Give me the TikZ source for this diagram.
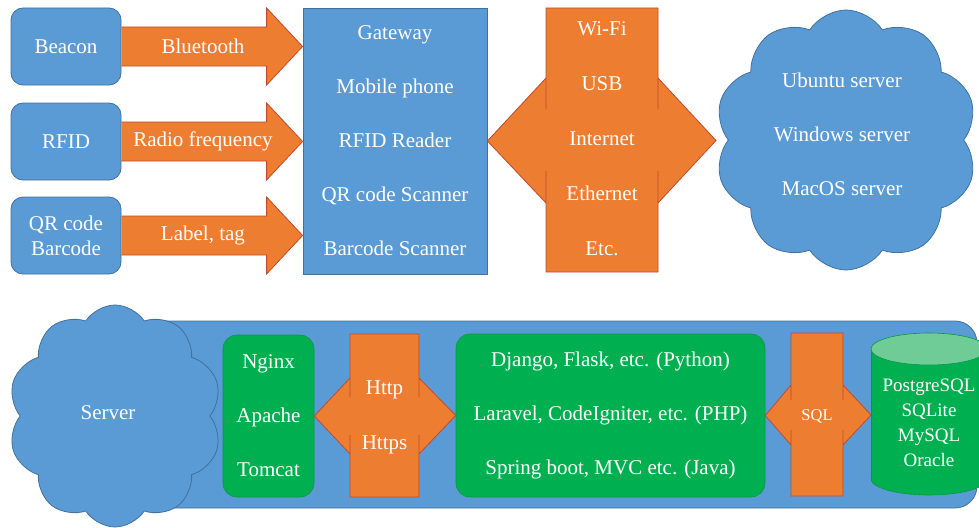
\documentclass[tikz,border=0pt]{standalone}
\usepackage{fontspec}
\setmainfont{Liberation Serif}
\newfontfamily\labelfont{Liberation Serif}
\usetikzlibrary{calc,shapes.symbols}
\definecolor{boxblue}{RGB}{91,155,213}
\definecolor{boxblueline}{RGB}{65,113,156}
\definecolor{arrorange}{RGB}{237,125,49}
\definecolor{arrline}{RGB}{190,75,45}
\definecolor{boxgreen}{RGB}{0,176,80}
\definecolor{boxgreenline}{RGB}{10,150,70}
\definecolor{dbtop}{RGB}{112,204,150}

\begin{document}
\begin{tikzpicture}[x=1pt,y=-1pt,
  txt/.style={text=white,font=\labelfont\fontsize{21}{54}\selectfont,align=center},
  bluebox/.style={txt,fill=boxblue,draw=boxblueline,line width=0.8pt,rounded corners=12pt,inner sep=0pt},
  greenbox/.style={txt,fill=boxgreen,draw=boxgreenline,line width=0.6pt,rounded corners=14pt,inner sep=0pt},
  blockarrow/.style={fill=arrorange,draw=arrline,line width=0.8pt,line join=miter},
  bluecloud/.style={cloud,cloud puffs=10,cloud puff arc=115,aspect=1,fill=boxblue,draw=boxblueline,line width=0.8pt,inner sep=0pt}]
  \useasboundingbox (0,0) rectangle (979,527);

  \filldraw[fill=boxblue,draw=boxblueline,line width=0.8pt,rounded corners=22pt] (120,321) rectangle (977,508);

  \node[bluebox,minimum width=110pt,minimum height=77pt] (beacon) at (66,46.5) {Beacon};
  \node[bluebox,minimum width=110pt,minimum height=77pt] (rfid) at (66,141.5) {RFID};
  \node[bluebox,minimum width=110pt,minimum height=77pt,font=\labelfont\fontsize{21}{25}\selectfont] (qrcode) at (66,235.5) {QR code\\Barcode};
  \node[bluebox,rounded corners=0pt,minimum width=184pt,minimum height=266pt] (gateway) at (395,141)
    {Gateway\\Mobile phone\\RFID Reader\\QR code Scanner\\Barcode Scanner};

  \foreach \src/\lbl in {beacon/Bluetooth,rfid/Radio frequency,qrcode/{Label, tag}}{
    \filldraw[blockarrow] ($(\src.east)+(0,-19.5)$) -- ($(gateway.west|-\src)+(-36,-19.5)$)
      -- ($(gateway.west|-\src)+(-36,-38.5)$) -- (gateway.west|-\src)
      -- ($(gateway.west|-\src)+(-36,38.5)$) -- ($(gateway.west|-\src)+(-36,19.5)$)
      -- ($(\src.east)+(0,19.5)$);
    \node[txt] at ($(\src.east)!0.45!(gateway.west|-\src)$) {\lbl};
  }

  \node[bluecloud,minimum width=263pt,minimum height=260pt] (hosts) at (846,140) {};
  \node[txt] (hoststext) at (842,134) {Ubuntu server\\Windows server\\MacOS server};

  \filldraw[blockarrow] (546,8) -- (658,8) -- (658,109) -- (658,78) -- (716,140.5) -- (658,203)
    -- (658,171) -- (658,272) -- (546,272) -- (546,171) -- (546,203) -- (gateway.east)
    -- (546,78) -- (546,109) -- cycle;
  \node[txt,font=\labelfont\fontsize{21}{55}\selectfont] (link) at (602,139) {Wi-Fi\\USB\\Internet\\Ethernet\\Etc.};

  \node[bluecloud,minimum width=214pt,minimum height=222pt] (server) at (115,416) {};
  \node[txt] (servertext) at (108,413) {Server};

  \node[greenbox,minimum width=91pt,minimum height=162pt] (websrv) at (268.5,416) {Nginx\\Apache\\Tomcat};
  \node[greenbox,minimum width=309pt,minimum height=163pt] (frameworks) at (610.5,415.5)
    {Django, Flask, etc. (Python)\\Laravel, CodeIgniter, etc. (PHP)\\Spring boot, MVC etc. (Java)};

  \filldraw[fill=boxgreen,draw=boxgreenline,line width=0.6pt] (929,479) ellipse (58 and 16);
  \fill[boxgreen] (871,349) rectangle (987,479);
  \draw[boxgreenline,line width=0.6pt] (871,349) -- (871,479) (987,349) -- (987,479);
  \filldraw[fill=dbtop,draw=boxgreenline,line width=0.6pt] (929,349) ellipse (58 and 16);
  \coordinate (dbin) at (871,415);
  \node[txt,font=\labelfont\fontsize{19}{25}\selectfont] (db) at (929,422.5) {PostgreSQL\\SQLite\\MySQL\\Oracle};

  \filldraw[blockarrow] (350,334) -- (419,334) -- (419,397) -- (419,378) -- (frameworks.west)
    -- (419,454) -- (419,435) -- (419,497) -- (350,497) -- (350,435) -- (350,454)
    -- (websrv.east) -- (350,378) -- (350,397) -- cycle;
  \node[txt,font=\labelfont\fontsize{21}{55}\selectfont] (http) at (384.5,417.5) {Http\\Https};

  \filldraw[blockarrow] (791,333) -- (843,333) -- (843,400) -- (843,385) -- (dbin)
    -- (843,445) -- (843,430) -- (843,496) -- (791,496) -- (791,430) -- (791,445)
    -- (frameworks.east) -- (791,385) -- (791,400) -- cycle;
  \node[txt,font=\labelfont\fontsize{16.5}{20}\selectfont] (sql) at (817,416) {SQL};
\end{tikzpicture}
\end{document}
